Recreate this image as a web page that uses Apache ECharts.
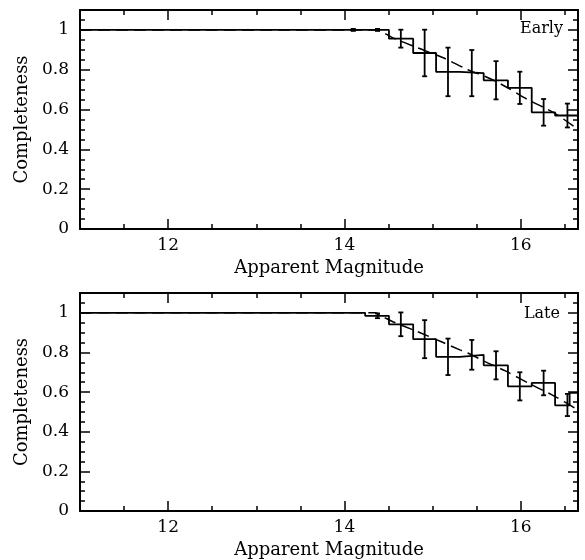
<!DOCTYPE html>
<html>
<head>
<meta charset="utf-8">
<script src="https://cdn.jsdelivr.net/npm/echarts@6/dist/echarts.min.js"></script>
<style>
  html, body { margin: 0; padding: 0; background: #fff; }
  #chart { width: 585px; height: 560px; }
</style>
</head>
<body>
<div id="chart"></div>
<script>
// axis ticks
const xMajorTicks = [12, 14, 16];
const xMinorTicks = [11.5, 12, 12.5, 13, 13.5, 14, 14.5, 15, 15.5, 16, 16.5];
const yMajorTicks = [0, 0.2, 0.4, 0.6, 0.8, 1];
const yMinorTicks = [0.05, 0.1, 0.15, 0.2, 0.25, 0.3, 0.35, 0.4, 0.45, 0.5, 0.55,
                     0.6, 0.65, 0.7, 0.75, 0.8, 0.85, 0.9, 0.95, 1, 1.05];

// Early: binned completeness (step edges + values)
const earlyEdges = [11, 14.505, 14.78, 15.04, 15.31, 15.58, 15.855, 16.125, 16.39, 16.65];
const earlyValues = [1, 0.956, 0.884, 0.789, 0.783, 0.747, 0.709, 0.586, 0.570];
// Early: error bars
const earlyErrMag = [14.10, 14.375, 14.64, 14.91, 15.175, 15.445, 15.72, 15.99, 16.26, 16.53];
const earlyErrVal = [1, 1, 0.956, 0.884, 0.789, 0.783, 0.747, 0.709, 0.586, 0.570];
const earlyErrSize = [0.005, 0.005, 0.045, 0.117, 0.122, 0.116, 0.096, 0.081, 0.067, 0.06];
// Early: model curve
const earlyCurveMag = [11, 14.35, 14.55, 14.83, 15.12, 15.40, 15.63, 15.82, 16.08, 16.38, 16.65];
const earlyCurveVal = [1, 1, 0.96, 0.91, 0.86, 0.80, 0.76, 0.717, 0.65, 0.583, 0.50];

// Late
const lateEdges = [11, 14.235, 14.505, 14.78, 15.04, 15.31, 15.58, 15.855, 16.125, 16.39, 16.555, 16.65];
const lateValues = [1, 0.985, 0.942, 0.867, 0.778, 0.788, 0.735, 0.629, 0.646, 0.533, 0.596];
const lateErrMag = [14.375, 14.64, 14.91, 15.175, 15.445, 15.72, 15.99, 16.26, 16.53];
const lateErrVal = [0.985, 0.942, 0.867, 0.778, 0.788, 0.735, 0.629, 0.646, 0.535];
const lateErrSize = [0.012, 0.06, 0.096, 0.092, 0.075, 0.071, 0.071, 0.062, 0.056];
const lateCurveMag = [11, 14.35, 14.44, 14.55, 14.83, 15.12, 15.31, 15.40, 15.59, 15.82, 16.12, 16.38, 16.65];
const lateCurveVal = [1, 1, 0.98, 0.955, 0.905, 0.85, 0.813, 0.797, 0.755, 0.708, 0.638, 0.58, 0.51];

const FONT = '"DejaVu Serif", serif';
const chart = echarts.init(document.getElementById('chart'));

const grids = [
    { left: 80, top: 10, width: 498, height: 219 },
    { left: 80, top: 293, width: 498, height: 219 }
];

function stepPoints(edges, values) {
    const pts = [];
    values.forEach((v, i) => {
        pts.push([edges[i], v]);
        pts.push([edges[i + 1], v]);
    });
    return pts;
}

const frameLine = { show: true, onZero: false, lineStyle: { color: '#000', width: 2 } };
const noLine = { show: false, onZero: false };
const tickStyle = { color: '#000', width: 1.5 };

const xAxes = [];
const yAxes = [];
grids.forEach((g, gi) => {
    const xBase = { gridIndex: gi, type: 'value', min: 11, max: 16.65, splitLine: { show: false } };
    const yBase = { gridIndex: gi, type: 'value', min: 0, max: 1.1, splitLine: { show: false } };
    // bottom, labelled with major ticks
    xAxes.push(Object.assign({}, xBase, {
        position: 'bottom',
        name: 'Apparent Magnitude',
        nameLocation: 'middle',
        nameGap: 30,
        nameTextStyle: { fontFamily: FONT, fontSize: 18, color: '#000' },
        axisLine: frameLine,
        axisTick: { show: true, inside: true, length: 10, customValues: xMajorTicks, lineStyle: tickStyle },
        axisLabel: { show: true, customValues: xMajorTicks, margin: 8, fontFamily: FONT, fontSize: 17, color: '#000' }
    }));
    xAxes.push(Object.assign({}, xBase, {
        position: 'bottom',
        axisLine: noLine,
        axisTick: { show: true, inside: true, length: 5, customValues: xMinorTicks, lineStyle: tickStyle },
        axisLabel: { show: false }
    }));
    xAxes.push(Object.assign({}, xBase, {
        position: 'top',
        axisLine: frameLine,
        axisTick: { show: true, inside: true, length: 10, customValues: xMajorTicks, lineStyle: tickStyle },
        axisLabel: { show: false }
    }));
    xAxes.push(Object.assign({}, xBase, {
        position: 'top',
        axisLine: noLine,
        axisTick: { show: true, inside: true, length: 5, customValues: xMinorTicks, lineStyle: tickStyle },
        axisLabel: { show: false }
    }));

    yAxes.push(Object.assign({}, yBase, {
        position: 'left',
        name: 'Completeness',
        nameLocation: 'middle',
        nameGap: 48,
        nameTextStyle: { fontFamily: FONT, fontSize: 18, color: '#000' },
        axisLine: frameLine,
        axisTick: { show: true, inside: true, length: 10, customValues: yMajorTicks, lineStyle: tickStyle },
        axisLabel: { show: true, customValues: yMajorTicks, margin: 11, fontFamily: FONT, fontSize: 17, color: '#000' }
    }));
    yAxes.push(Object.assign({}, yBase, {
        position: 'left',
        axisLine: noLine,
        axisTick: { show: true, inside: true, length: 5, customValues: yMinorTicks, lineStyle: tickStyle },
        axisLabel: { show: false }
    }));
    yAxes.push(Object.assign({}, yBase, {
        position: 'right',
        axisLine: frameLine,
        axisTick: { show: true, inside: true, length: 10, customValues: yMajorTicks, lineStyle: tickStyle },
        axisLabel: { show: false }
    }));
    yAxes.push(Object.assign({}, yBase, {
        position: 'right',
        axisLine: noLine,
        axisTick: { show: true, inside: true, length: 5, customValues: yMinorTicks, lineStyle: tickStyle },
        axisLabel: { show: false }
    }));
});

function errorBarSeries(gi, mags, vals, errs) {
    return {
        type: 'custom',
        xAxisIndex: gi * 4,
        yAxisIndex: gi * 4,
        silent: true,
        clip: true,
        data: mags.map((m, i) => [m, vals[i] - errs[i], vals[i] + errs[i]]),
        renderItem: function (params, api) {
            const lo = api.coord([api.value(0), api.value(1)]);
            const hi = api.coord([api.value(0), api.value(2)]);
            const cap = 2.5;
            const style = { stroke: '#000', lineWidth: 1.8 };
            return {
                type: 'group',
                children: [
                    { type: 'line', shape: { x1: lo[0], y1: lo[1], x2: hi[0], y2: hi[1] }, style: style },
                    { type: 'line', shape: { x1: lo[0] - cap, y1: lo[1], x2: lo[0] + cap, y2: lo[1] }, style: style },
                    { type: 'line', shape: { x1: hi[0] - cap, y1: hi[1], x2: hi[0] + cap, y2: hi[1] }, style: style }
                ]
            };
        }
    };
}

function stepSeries(gi, edges, values) {
    return {
        type: 'line',
        xAxisIndex: gi * 4,
        yAxisIndex: gi * 4,
        data: stepPoints(edges, values),
        symbol: 'none',
        silent: true,
        lineStyle: { color: '#000', width: 1.8 }
    };
}

function curveSeries(gi, mags, vals) {
    return {
        type: 'line',
        xAxisIndex: gi * 4,
        yAxisIndex: gi * 4,
        data: mags.map((m, i) => [m, vals[i]]),
        symbol: 'none',
        smooth: 0.3,
        silent: true,
        lineStyle: { color: '#000', width: 1.5, type: [12, 6] }
    };
}

const option = {
    animation: false,
    backgroundColor: '#fff',
    grid: grids,
    xAxis: xAxes,
    yAxis: yAxes,
    graphic: [
        { type: 'text', right: 22, top: 21, style: { text: 'Early', fontFamily: FONT, fontSize: 16, fill: '#000' } },
        { type: 'text', right: 25, top: 306, style: { text: 'Late', fontFamily: FONT, fontSize: 16, fill: '#000' } }
    ],
    series: [
        curveSeries(0, earlyCurveMag, earlyCurveVal),
        stepSeries(0, earlyEdges, earlyValues),
        errorBarSeries(0, earlyErrMag, earlyErrVal, earlyErrSize),
        curveSeries(1, lateCurveMag, lateCurveVal),
        stepSeries(1, lateEdges, lateValues),
        errorBarSeries(1, lateErrMag, lateErrVal, lateErrSize)
    ]
};

chart.setOption(option);
</script>
</body>
</html>
